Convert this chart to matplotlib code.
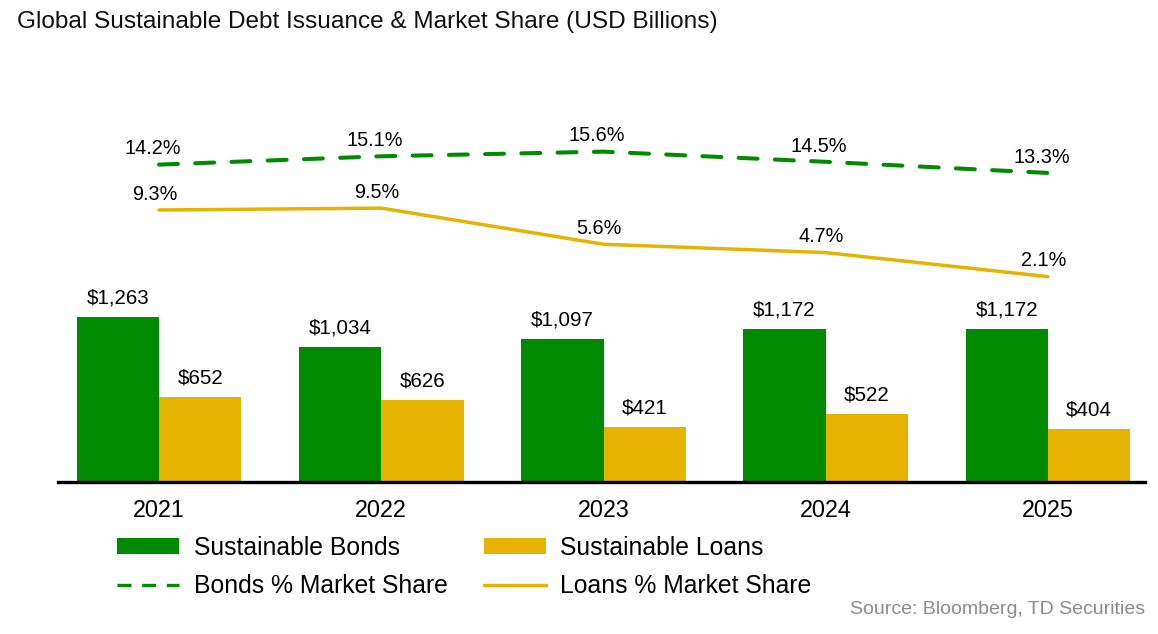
import numpy as np
import matplotlib.pyplot as plt
from matplotlib.lines import Line2D

# 数据
years = ["2021", "2022", "2023", "2024", "2025"]
bonds = [1263, 1034, 1097, 1172, 1172]
loans = [652, 626, 421, 522, 404]
bonds_share = [14.2, 15.1, 15.6, 14.5, 13.3]
loans_share = [9.3, 9.5, 5.6, 4.7, 2.1]

GREEN = "#008A00"
YELLOW = "#E6B300"

plt.rcParams["font.family"] = ["Liberation Sans", "DejaVu Sans"]

W, H = 1158, 634
fig = plt.figure(figsize=(W / 100, H / 100), dpi=100)

# 坐标区（按像素定位）
left, right, top, base = 58, 1145, 90, 482
ax = fig.add_axes([left / W, 1 - base / H, (right - left) / W, (base - top) / H])
ax2 = ax.twinx()

x = np.arange(len(years))
bw = 0.371
step = 222.25
ax.set_xlim((left - 159) / step, (right - 159) / step)
ax.set_ylim(0, (base - top) / 0.1303)
ax2.set_ylim((296.1 - base) / 9.26, (296.1 - top) / 9.26)

b1 = ax.bar(x - bw / 2, bonds, bw, color=GREEN, label="Sustainable Bonds")
b2 = ax.bar(x + bw / 2, loans, bw, color=YELLOW, label="Sustainable Loans")

for i in range(len(years)):
    ax.annotate("${:,}".format(bonds[i]), (x[i] - bw / 2, bonds[i]), xytext=(0, 7),
                textcoords="offset points", ha="center", va="bottom", fontsize=14.8)
    ax.annotate("${:,}".format(loans[i]), (x[i] + bw / 2, loans[i]), xytext=(0, 7),
                textcoords="offset points", ha="center", va="bottom", fontsize=14.8)

ax2.plot(x, bonds_share, color=GREEN, lw=2.9, dashes=(4.7, 4.3), dash_capstyle="round")
ax2.plot(x, loans_share, color=YELLOW, lw=2.5, solid_capstyle="round", solid_joinstyle="round")

for i in range(len(years)):
    ax2.annotate("{:.1f}%".format(bonds_share[i]), (x[i] - 0.03, bonds_share[i]), xytext=(0, 4.5),
                 textcoords="offset points", ha="center", va="bottom", fontsize=14.3)
    ax2.annotate("{:.1f}%".format(loans_share[i]), (x[i] - 0.02, loans_share[i]), xytext=(0, 4.5),
                 textcoords="offset points", ha="center", va="bottom", fontsize=14.3)

# 坐标轴样式
for a in (ax, ax2):
    for s in ["top", "right", "left"]:
        a.spines[s].set_visible(False)
    a.set_yticks([])
ax2.spines["bottom"].set_visible(False)
ax.spines["bottom"].set_linewidth(2.4)
ax.spines["bottom"].set_color("black")
ax.set_xticks(x)
ax.set_xticklabels(years, fontsize=16.8)
ax.tick_params(axis="x", length=0, pad=12)

# 图例
h_bl = Line2D([], [], color=GREEN, lw=2.4, dashes=(4.2, 3.2))
h_ll = Line2D([], [], color=YELLOW, lw=2.4)
handles = [b1, h_bl, b2, h_ll]
labels = ["Sustainable Bonds", "Bonds % Market Share", "Sustainable Loans", "Loans % Market Share"]
fig.legend(handles, labels, ncol=2, loc="upper left", bbox_to_anchor=(117 / W, 1 - 536 / H),
           frameon=False, fontsize=17.8, handlelength=2.5, handleheight=0.62,
           handletextpad=0.6, columnspacing=1.47, labelspacing=0.58, borderaxespad=0,
           borderpad=0)

fig.text(17 / W, 1 - 22 / H, "Global Sustainable Debt Issuance & Market Share (USD Billions)",
         fontsize=17.6, va="center", ha="left", color="#111111")
fig.text(1145 / W, 1 - 610 / H, "Source: Bloomberg, TD Securities", fontsize=14,
         va="center", ha="right", color="#8C8C8C")

fig.savefig("out.png", dpi=100)
